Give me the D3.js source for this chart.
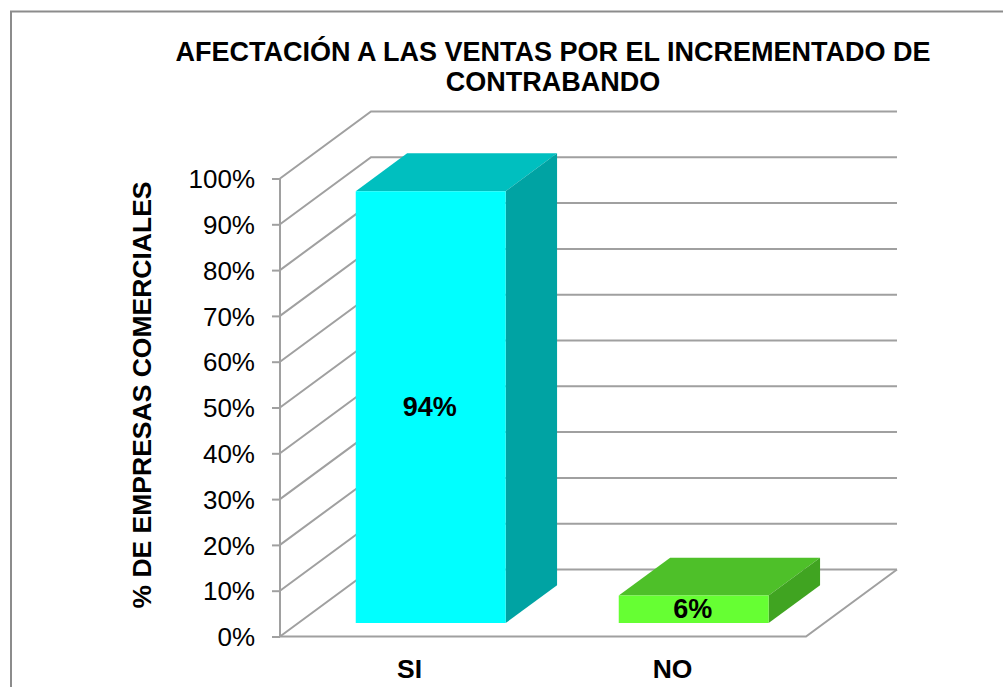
<!DOCTYPE html>
<html><head><meta charset="utf-8">
<script src="https://cdnjs.cloudflare.com/ajax/libs/d3/7.8.5/d3.min.js"></script>
<style>html,body{margin:0;padding:0;background:#fff}svg{display:block}text{font-family:"Liberation Sans",Arial,sans-serif;fill:#000}</style>
</head><body><svg id="c" width="1003" height="687"></svg>
<script>
const categories = ["SI", "NO"];
const values = [94.3, 6];
const valueLabels = ["94%", "6%"];
const yTicks = [0,10,20,30,40,50,60,70,80,90,100];
const titleLines = ["AFECTACIÓN A LAS VENTAS POR EL INCREMENTADO DE", "CONTRABANDO"];
const yTitle = "% DE EMPRESAS COMERCIALES";
const frontColors = ["#00FFFF", "#66FF33"];
const topColors = ["#00BFBF", "#4EC029"];
const sideColors = ["#00A3A3", "#40A421"];

const GRID = "#a0a0a0";
const svg = d3.select("#c");
const y = d3.scaleLinear().domain([0,100]).range([636.5,178.5]);
const x = d3.scaleBand().domain(categories).range([280,806]).paddingInner(0.43).paddingOuter(0.215);
const depthX = d3.scaleLinear().domain([0,1]).range([0,91]);
const depthY = d3.scaleLinear().domain([0,1]).range([0,-67]);
const baseDepth = 0.2, barDepth = 0.565;
const P = (px, v, d) => [px + depthX(d), y(v) + depthY(d)];
const path = pts => "M" + pts.map(p => p.join(",")).join("L") + "Z";

// chart frame
svg.append("path").attr("d","M11,687V11.5H1003").attr("fill","none").attr("stroke","#8c8c8c").attr("stroke-width",2);

// walls and floor
const x0 = x.range()[0], x1 = x.range()[1];
const grid = svg.append("g").attr("fill","none").attr("stroke",GRID).attr("stroke-width",2);
yTicks.forEach(t => {
  grid.append("path").attr("d", d3.line()([P(x0,t,0), P(x0,t,1), P(x1,t,1)]));
});
grid.append("path").attr("d", d3.line()([P(x0,0,0), P(x1,0,0), P(x1,0,1)]));

// bars
const bars = svg.selectAll("g.bar").data(categories).join("g").attr("class","bar");
bars.each(function(c,i){
  const g = d3.select(this), L = x(c)+1, R = L + x.bandwidth(), v = values[i];
  const b0 = 0, b1 = v;
  const dF = baseDepth, dB = baseDepth + barDepth;
  g.append("path").attr("fill",topColors[i]).attr("d",path([P(L,b1,dF),P(R,b1,dF),P(R,b1,dB),P(L,b1,dB)]));
  g.append("path").attr("fill",sideColors[i]).attr("d",path([P(R,b0,dF),P(R,b0,dB),P(R,b1,dB),P(R,b1,dF)]));
  g.append("path").attr("fill",frontColors[i]).attr("d",path([P(L,b0,dF),P(R,b0,dF),P(R,b1,dF),P(L,b1,dF)]));
  const c0 = P(L + x.bandwidth()/2, v/2, dF);
  g.append("text").attr("x",c0[0]-1).attr("y",c0[1]+9).attr("text-anchor","middle")
    .attr("font-size",27).attr("font-weight","bold").text(valueLabels[i]);
});

// y axis
const ax = svg.append("g").attr("transform","translate(280,0)")
  .call(d3.axisLeft(y).tickValues(yTicks).tickSize(8).tickPadding(17).tickFormat(d => d + "%"));
ax.select(".domain").attr("stroke",GRID).attr("stroke-width",2).attr("d",`M0,${y(100)}V${y(0)}`);
ax.selectAll(".tick line").attr("stroke",GRID).attr("stroke-width",2);
ax.selectAll(".tick text").attr("font-size",26).attr("font-family",'"Liberation Sans",Arial,sans-serif').attr("fill","#000").attr("dy","0.35em");

// category labels
svg.selectAll("text.cat").data(categories).join("text").attr("class","cat")
  .attr("x",c => x(c)+x.bandwidth()/2-2).attr("y",678).attr("text-anchor","middle")
  .attr("font-size",26.5).attr("font-weight","bold").text(c=>c);

// titles
svg.selectAll("text.title").data(titleLines).join("text").attr("class","title")
  .attr("x",553).attr("y",(d,i)=>61+i*30).attr("text-anchor","middle")
  .attr("font-size",27).attr("font-weight","bold").text(d=>d);
svg.append("text").attr("transform","translate(151,395) rotate(-90)").attr("text-anchor","middle")
  .attr("font-size",26.5).attr("font-weight","bold").text(yTitle);
</script></body></html>
